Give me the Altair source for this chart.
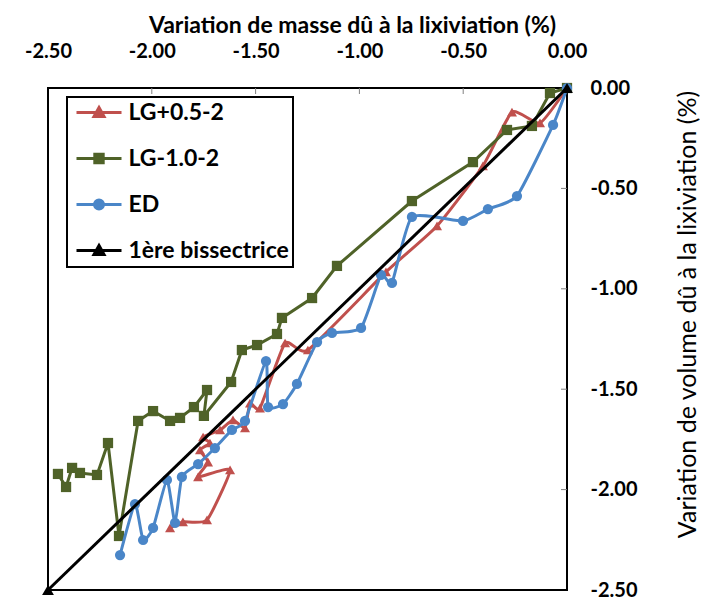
import altair as alt
import pandas as pd

# ---- data ----
names = ["LG+0.5-2", "LG-1.0-2", "ED", "1ère bissectrice"]
colors = ["#C0504D", "#4F6228", "#4A86C8", "#000000"]

red_x = [0.0, -0.130, -0.265, -0.405, -0.626, -0.872, -1.248, -1.358, -1.479, -1.527, -1.551,
         -1.609, -1.671, -1.753, -1.720, -1.768, -1.729, -1.777, -1.623, -1.734, -1.850, -1.912]
red_y = [0.0, -0.174, -0.120, -0.388, -0.687, -0.916, -1.305, -1.270, -1.594, -1.569, -1.693,
         -1.653, -1.703, -1.738, -1.768, -1.803, -1.863, -1.937, -1.902, -2.151, -2.161, -2.191]

green_x = [0.0, -0.082, -0.169, -0.289, -0.453, -0.747, -1.108, -1.228, -1.373, -1.397, -1.493,
           -1.566, -1.618, -1.749, -1.734, -1.797, -1.864, -1.912, -1.994, -2.066, -2.158, -2.211,
           -2.264, -2.346, -2.384, -2.413, -2.452]
green_y = [0.0, -0.025, -0.189, -0.209, -0.369, -0.563, -0.886, -1.046, -1.145, -1.225, -1.280,
           -1.305, -1.464, -1.633, -1.504, -1.589, -1.643, -1.658, -1.609, -1.658, -2.231, -1.768,
           -1.927, -1.917, -1.892, -1.987, -1.922]

blue_x = [0.0, -0.067, -0.241, -0.381, -0.501, -0.747, -0.843, -0.896, -0.992, -1.132, -1.204,
          -1.301, -1.368, -1.440, -1.450, -1.551, -1.614, -1.696, -1.777, -1.855, -1.888, -1.927,
          -1.994, -2.042, -2.081, -2.153]
blue_y = [0.0, -0.184, -0.538, -0.603, -0.662, -0.642, -0.971, -0.931, -1.195, -1.220, -1.265,
          -1.474, -1.574, -1.589, -1.360, -1.658, -1.703, -1.793, -1.873, -1.937, -2.166, -1.952,
          -2.191, -2.251, -2.072, -2.326]

bis_x = [-2.5, 0.0]
bis_y = [-2.5, 0.0]

axis_values = [-2.5, -2.0, -1.5, -1.0, -0.5, 0.0]
inner_ticks = [-2.0, -1.5, -1.0, -0.5]

x_title = "Variation de masse dû à la lixiviation (%)"
y_title = "Variation de volume dû à la lixiviation (%)"

# ---- styling ----
FONT = "Lato"
W, H = 519, 502
shapes = ["triangle-up", "square", "circle", "triangle-up"]
sizes = [100, 105, 105, 140]
interps = ["cardinal", "linear", "cardinal", "linear"]
legend_paths = [
    "M-2.25,0H2.25M0,-0.5L0.5,0.4L-0.5,0.4Z",
    "M-2.25,0H2.25M-0.42,-0.42H0.42V0.42H-0.42Z",
    "M-2.25,0H2.25M-0.45,0A0.45,0.45 0 1,0 0.45,0A0.45,0.45 0 1,0 -0.45,0Z",
    "M-2.25,0H2.25M0,-0.5L0.5,0.4L-0.5,0.4Z",
]

series = [(names[0], red_x, red_y), (names[1], green_x, green_y),
          (names[2], blue_x, blue_y), (names[3], bis_x, bis_y)]
df = pd.concat([
    pd.DataFrame({"serie": n, "x": xs, "y": ys, "i": list(range(len(xs)))})
    for n, xs, ys in series
], ignore_index=True)

label_expr = "replace(format(datum.value, '.2f'), '\u2212', '-')"

xscale = alt.Scale(domain=[-2.5, 0.0], nice=False, zero=False)
yscale = alt.Scale(domain=[-2.5, 0.0], nice=False, zero=False)

xaxis = alt.Axis(orient="top", values=axis_values, labelExpr=label_expr, ticks=False,
                 domain=False, grid=False, labelPadding=27, labelFont=FONT,
                 labelFontSize=20, labelFontWeight="bold", labelColor="black",
                 title=x_title, titleFont=FONT, titleFontSize=23, titleFontWeight="bold",
                 titleColor="black", titleX=304, titleY=-63, titleAlign="center",
                 titleBaseline="middle", labelFlush=False)
yaxis = alt.Axis(orient="right", values=axis_values, labelExpr=label_expr, ticks=False,
                 domain=False, grid=False, labelPadding=23, labelFont=FONT,
                 labelFontSize=20, labelFontWeight="bold", labelColor="black",
                 labelAlign="left", labelBaseline="middle",
                 title=y_title, titleFont=FONT, titleFontSize=25, titleFontWeight="normal",
                 titleColor="black", titleX=120, titleY=226, titleAngle=270,
                 titleAlign="center", titleBaseline="middle", labelFlush=False)

X = alt.X("x:Q", scale=xscale, axis=xaxis)
Y = alt.Y("y:Q", scale=yscale, axis=yaxis)

base = alt.Chart(df)
layers = []

# inner tick marks
tick_df = pd.DataFrame({"t": inner_ticks})
layers.append(alt.Chart(tick_df).mark_rule(color="#808080", strokeWidth=1).encode(
    x=alt.X("t:Q", scale=xscale, axis=xaxis), y=alt.value(0), y2=alt.value(6)))
layers.append(alt.Chart(tick_df).mark_rule(color="#808080", strokeWidth=1).encode(
    y=alt.Y("t:Q", scale=yscale, axis=yaxis), x=alt.value(W - 6), x2=alt.value(W)))

for n, c, s, sz, ip in zip(names, colors, shapes, sizes, interps):
    sub = base.transform_filter(alt.datum.serie == n)
    line_kw = dict(color=c, strokeWidth=3, interpolate=ip)
    if ip == "cardinal":
        line_kw["tension"] = 0.5
    layers.append(sub.mark_line(**line_kw).encode(x=X, y=Y, order="i:Q"))
    layers.append(sub.mark_point(color=c, filled=True, opacity=1, shape=s, size=sz).encode(
        x=X, y=Y))

# legend layer (no visible marks, only drives the legend)
leg = alt.Legend(orient="none", legendX=19, legendY=9, title=None, strokeColor="black",
                 padding=4, rowPadding=22, symbolSize=400, symbolStrokeWidth=3,
                 symbolOffset=16.5, labelOffset=18, labelLimit=400,
                 labelFont=FONT, labelFontSize=23, labelFontWeight="bold",
                 labelColor="black", fillColor="white")
leg_df = pd.DataFrame({"serie": names, "x": [5.0] * 4, "y": [5.0] * 4})
layers.append(alt.Chart(leg_df).transform_filter("datum.x < 1").mark_point(
    filled=True, opacity=1).encode(
    x=X, y=Y,
    fill=alt.Fill("serie:N", scale=alt.Scale(domain=names, range=colors), legend=leg),
    stroke=alt.Stroke("serie:N", scale=alt.Scale(domain=names, range=colors), legend=leg),
    shape=alt.Shape("serie:N", scale=alt.Scale(domain=names, range=legend_paths), legend=leg),
))

chart = alt.layer(*layers).properties(
    width=W, height=H,
    autosize=alt.AutoSizeParams(type="none"),
    padding={"left": 40, "top": 80, "right": 133, "bottom": 12},
    background="white",
).configure_view(stroke="black", strokeWidth=2).configure_legend(strokeWidth=2)

chart.save("out.html", embed_options={"renderer": "svg", "actions": False})
